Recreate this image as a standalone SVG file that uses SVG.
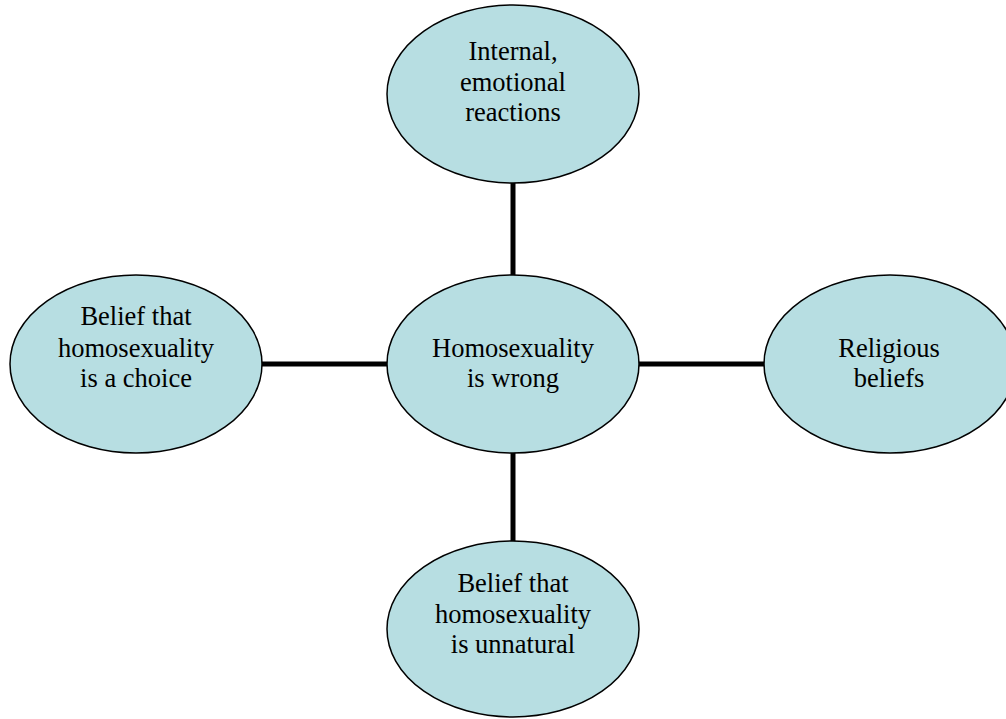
<svg xmlns="http://www.w3.org/2000/svg" width="1006" height="719" viewBox="0 0 1006 719">
<style>
.node ellipse{fill:#b7dee2;stroke:#000;stroke-width:1.5}
.node text{font-family:"Liberation Serif","Times New Roman",serif;font-size:26.5px;fill:#000;text-anchor:middle}
.conn line{stroke:#000;stroke-width:5}
</style>
<rect width="1006" height="719" fill="#fff"/>
<g id="connectors" class="conn">
<line x1="513" y1="182" x2="513" y2="276"/>
<line x1="261" y1="364" x2="388" y2="364"/>
<line x1="638" y1="364" x2="765" y2="364"/>
<line x1="513" y1="451" x2="513" y2="542"/>
</g>
<g id="center" class="node">
<ellipse cx="513" cy="364" rx="126" ry="89"/>
<text x="513" y="357">Homosexuality</text>
<text x="513" y="387">is wrong</text>
</g>
<g id="top" class="node">
<ellipse cx="513" cy="94" rx="126" ry="89"/>
<text x="513" y="60">Internal,</text>
<text x="513" y="91">emotional</text>
<text x="513" y="121">reactions</text>
</g>
<g id="left" class="node">
<ellipse cx="136" cy="364" rx="126" ry="89"/>
<text x="136" y="325">Belief that</text>
<text x="136" y="357">homosexuality</text>
<text x="136" y="387">is a choice</text>
</g>
<g id="right" class="node">
<ellipse cx="890" cy="364" rx="126" ry="89"/>
<text x="889" y="357">Religious</text>
<text x="889" y="387">beliefs</text>
</g>
<g id="bottom" class="node">
<ellipse cx="513" cy="629" rx="126" ry="88"/>
<text x="513" y="592">Belief that</text>
<text x="513" y="623">homosexuality</text>
<text x="513" y="653">is unnatural</text>
</g>
</svg>
